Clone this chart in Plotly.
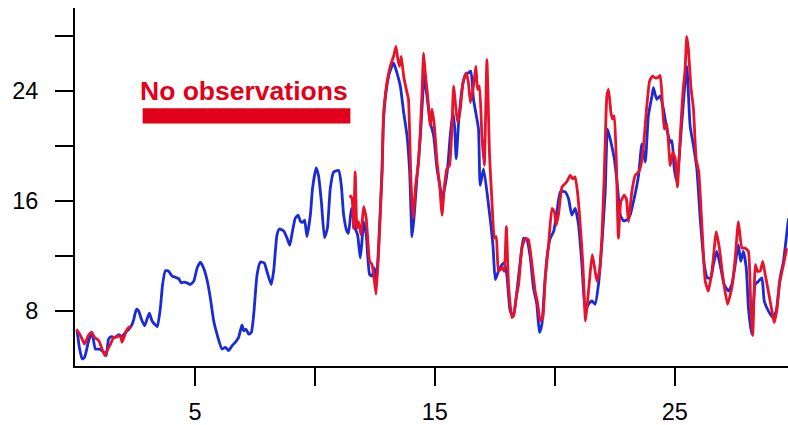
import plotly.graph_objects as go

# Modelled series (blue) – day of month vs value
blue_x = [0.09,0.18,0.30,0.40,0.57,0.71,0.85,1.02,1.20,1.30,1.40,1.52,1.68,1.82,1.96,2.10,2.24,2.38,2.45,2.56,
          2.65,2.77,2.90,3.00,3.10,3.21,3.32,3.43,3.56,3.65,3.77,3.90,4.05,4.18,4.32,4.43,4.53,4.67,4.81,4.95,
          5.09,5.23,5.36,5.50,5.64,5.78,5.92,6.13,6.27,6.40,6.55,6.68,6.82,6.96,7.03,7.13,7.24,7.35,7.45,7.59,
          7.73,7.89,8.00,8.18,8.28,8.42,8.52,8.70,8.84,8.95,9.05,9.18,9.30,9.39,9.49,9.57,9.67,9.81,9.90,10.05,
          10.15,10.27,10.40,10.52,10.64,10.78,10.99,11.10,11.20,11.34,11.40,11.52,11.61,11.68,11.78,11.89,11.96,12.03,12.14,12.28,
          12.38,12.48,12.56,12.65,12.80,12.86,13.00,13.11,13.28,13.42,13.56,13.70,13.84,13.95,14.05,14.14,14.25,14.39,14.56,14.67,
          14.81,14.95,15.09,15.23,15.30,15.43,15.53,15.64,15.75,15.82,15.89,15.99,16.13,16.27,16.40,16.50,16.61,16.73,16.82,16.89,
          17.03,17.23,17.42,17.52,17.65,17.80,17.89,18.00,18.14,18.28,18.42,18.56,18.70,18.84,18.98,19.11,19.25,19.36,19.46,19.56,
          19.67,19.81,19.95,20.09,20.23,20.43,20.57,20.71,20.85,20.99,21.13,21.27,21.40,21.55,21.68,21.82,21.96,22.10,22.20,22.34,
          22.48,22.61,22.73,22.86,23.04,23.14,23.28,23.49,23.63,23.77,23.90,24.05,24.11,24.25,24.39,24.53,24.67,24.81,24.88,24.98,
          25.09,25.23,25.36,25.50,25.64,25.78,25.92,26.06,26.23,26.36,26.50,26.61,26.75,26.89,27.06,27.24,27.38,27.52,27.65,27.75,
          27.86,27.98,28.07,28.21,28.35,28.49,28.63,28.73,28.90,29.09,29.23,29.39,29.53,29.74]
blue_y = [6.56,5.36,4.51,4.64,5.84,6.44,5.23,5.23,5.00,4.76,5.95,6.13,6.08,6.27,6.13,6.44,6.67,7.03,7.39,8.12,
          8.00,7.39,6.92,7.39,7.83,7.28,7.03,6.85,8.24,9.92,10.93,10.88,10.52,10.45,10.35,10.04,10.09,10.04,9.92,10.16,
          11.12,11.55,11.12,10.28,8.96,7.28,6.31,5.23,5.36,5.12,5.48,5.72,6.08,6.99,6.56,6.67,6.31,6.44,7.76,10.64,
          11.55,11.48,10.88,9.92,10.88,13.52,13.95,13.81,13.28,12.76,13.64,14.72,14.96,14.53,14.43,14.60,13.40,14.96,16.88,18.38,
          17.84,15.93,13.33,14.00,16.88,18.09,18.20,17.12,14.96,13.76,13.64,15.44,14.72,14.00,13.52,11.84,13.04,14.48,13.52,10.64,
          10.52,11.12,10.16,12.56,18.32,21.93,24.33,25.29,26.01,25.29,24.33,22.41,20.72,18.09,13.40,14.96,17.60,20.49,25.05,23.61,
          21.69,20.72,18.32,16.88,16.16,17.12,18.32,20.72,22.41,21.44,19.05,21.69,24.09,25.17,25.29,25.41,23.37,22.17,21.21,17.12,
          18.32,15.80,12.80,10.28,10.88,11.36,11.48,10.64,8.00,7.64,9.44,11.60,13.28,13.16,11.84,9.68,8.48,6.44,7.03,9.44,
          11.84,13.28,13.76,15.21,16.65,16.65,16.16,14.96,15.44,14.24,11.36,8.00,8.48,8.72,8.48,9.92,12.80,16.65,21.21,20.25,
          19.05,17.12,14.96,14.54,14.65,14.96,15.95,17.84,20.13,18.81,22.17,23.61,24.21,23.37,23.61,22.65,21.21,20.25,20.36,18.32,
          17.37,20.25,23.13,25.77,21.44,20.00,18.32,14.72,11.36,10.40,10.40,11.36,12.32,11.36,9.92,9.44,9.92,11.36,12.80,11.60,
          12.32,11.12,8.24,6.31,9.92,10.16,10.40,8.72,8.00,7.52,8.00,10.40,11.60,14.72]

# Observed series (red) – None marks the period without observations
red_x = [0.06,0.18,0.30,0.40,0.55,0.68,0.82,0.99,1.13,1.24,1.34,1.48,1.61,1.75,1.89,1.96,2.07,2.17,2.28,2.35,
         None,
         11.45,11.55,11.61,11.68,11.75,11.82,11.92,12.03,12.14,12.28,12.38,12.45,12.55,12.65,12.80,12.86,13.00,13.14,13.28,13.38,
         13.46,13.53,13.60,13.70,13.81,13.90,14.00,14.09,14.20,14.32,14.46,14.53,14.60,14.70,14.81,14.88,14.98,15.09,15.20,15.30,
         15.39,15.50,15.61,15.71,15.78,15.88,15.95,16.06,16.17,16.31,16.40,16.48,16.61,16.71,16.78,16.86,16.96,17.06,17.17,17.28,
         17.38,17.48,17.56,17.65,17.80,17.89,17.98,18.07,18.21,18.28,18.39,18.49,18.63,18.77,18.90,19.05,19.18,19.28,19.39,19.50,
         19.60,19.74,19.88,19.98,20.06,20.15,20.30,20.43,20.53,20.64,20.75,20.85,20.96,21.06,21.17,21.28,21.38,21.48,21.56,21.64,
         21.75,21.86,21.96,22.06,22.17,22.24,22.34,22.40,22.48,22.56,22.65,22.75,22.89,22.98,23.07,23.21,23.35,23.49,23.59,23.70,
         23.81,23.95,24.07,24.18,24.28,24.39,24.46,24.56,24.67,24.81,24.92,25.02,25.11,25.23,25.34,25.43,25.50,25.57,25.67,25.78,
         25.89,26.00,26.13,26.27,26.40,26.55,26.73,26.86,27.03,27.20,27.38,27.52,27.65,27.80,27.93,28.07,28.17,28.25,28.36,28.45,
         28.56,28.67,28.77,28.90,29.05,29.14,29.25,29.36,29.53,29.67]
red_y = [6.67,6.36,5.95,5.59,6.20,6.44,6.08,5.84,5.23,4.76,5.12,5.59,6.08,6.13,6.20,5.72,6.20,6.67,6.85,6.79,
         None,
         16.40,16.16,14.00,18.09,14.00,14.48,13.52,15.57,14.72,11.60,11.36,10.64,9.20,12.08,18.09,22.17,24.57,25.77,26.49,27.21,
         26.25,25.77,26.49,25.05,24.09,23.37,17.60,14.72,17.12,18.81,23.61,26.73,25.29,23.61,21.44,22.65,21.44,18.81,17.12,14.96,
         16.88,18.32,18.56,21.21,24.33,22.65,21.69,22.65,24.57,25.29,24.57,23.13,24.33,25.77,24.09,24.33,20.72,18.56,26.25,19.28,
         15.95,13.28,13.40,10.88,11.12,10.88,14.12,9.92,7.52,7.64,8.96,9.92,12.56,13.28,13.16,11.36,9.44,8.60,7.28,7.52,
         10.40,12.80,15.44,15.21,14.24,14.96,17.01,17.24,17.48,17.84,17.60,17.73,16.40,14.24,11.36,7.28,8.96,10.88,12.08,11.36,
         10.16,10.88,13.28,17.84,23.61,24.09,22.41,21.93,22.17,19.05,13.28,15.93,16.40,16.16,14.48,16.65,17.84,18.09,18.56,20.00,
         22.41,24.69,25.05,24.93,24.93,25.10,23.85,21.21,21.57,18.56,19.53,19.05,17.01,20.72,23.85,25.53,27.93,26.97,24.33,22.65,
         19.05,18.09,14.24,10.16,9.44,10.88,13.76,12.56,10.16,8.48,9.68,11.84,14.48,12.56,12.56,12.32,8.24,6.20,11.36,10.88,
         10.88,11.60,10.64,9.44,8.00,7.16,8.00,9.92,11.36,12.56]

x_tickvals = [5, 10, 15, 20, 25]
x_ticktext = ["5", "", "15", "", "25"]
y_tickvals = [8, 12, 16, 20, 24, 28]
y_ticktext = ["8", "", "16", "", "24", ""]

annotation_text = "No observations"

BLUE = "#1a2bd6"
RED = "#e8122b"
BAR_RED = "#e2001a"
FONT = "Liberation Sans, Arial, Helvetica, sans-serif"

fig = go.Figure()
fig.add_trace(go.Scatter(x=blue_x, y=blue_y, mode="lines",
                         line=dict(color=BLUE, width=2.8, shape="spline", smoothing=0.5),
                         connectgaps=False, showlegend=False))
fig.add_trace(go.Scatter(x=red_x, y=red_y, mode="lines",
                         line=dict(color=RED, width=2.8, shape="spline", smoothing=0.4),
                         connectgaps=False, showlegend=False))

fig.add_shape(type="rect", xref="x", yref="y", x0=2.82, x1=11.48, y0=21.62, y1=22.72,
              fillcolor=BAR_RED, line=dict(width=0), layer="above")
fig.add_annotation(x=7.05, y=24.0, xref="x", yref="y", text="<b>" + annotation_text + "</b>",
                   showarrow=False, font=dict(family=FONT, size=26.5, color=BAR_RED),
                   xanchor="center", yanchor="middle")

axis_common = dict(showgrid=False, zeroline=False, showline=True, linecolor="black", linewidth=2,
                   ticks="outside", ticklen=18, tickwidth=2, tickcolor="black",
                   tickfont=dict(family=FONT, size=23.5, color="black"))

fig.update_layout(
    width=788, height=425,
    margin=dict(l=75, r=0, t=8, b=56, pad=0),
    paper_bgcolor="white", plot_bgcolor="white",
    xaxis=dict(range=[0, 29.72], tickvals=x_tickvals, ticktext=x_ticktext,
               ticklabelstandoff=6, **axis_common),
    yaxis=dict(range=[4, 30], tickvals=y_tickvals, ticktext=y_ticktext,
               ticklabelstandoff=12, **axis_common),
)

fig.write_html("out.html")
